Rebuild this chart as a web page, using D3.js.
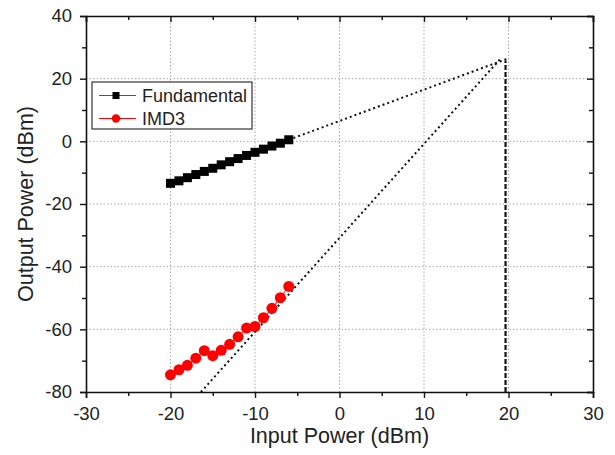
<!DOCTYPE html>
<html lang="en">
<head>
  <meta charset="UTF-8">
  <script src="https://d3js.org/d3.v7.min.js"></script>
  <style>
    body { margin: 0; background: #fff; }
    text { font-family: "Liberation Sans", Arial, sans-serif; fill: #222; }
  </style>
</head>
<body>
  <svg id="chart" width="615" height="455"></svg>
  <script>
    // data
    var inputPower = [-20, -19, -18, -17, -16, -15, -14, -13, -12, -11, -10, -9, -8, -7, -6];
    var fundamental = [-13.4, -12.6, -11.6, -10.6, -9.6, -8.6, -7.5, -6.5, -5.5, -4.5, -3.5, -2.5, -1.5, -0.6, 0.5];
    var imd3 = [-74.5, -72.9, -71.5, -69.2, -66.8, -68.4, -66.7, -64.8, -62.4, -59.6, -59.1, -56.3, -53.3, -49.9, -46.3];

    // extrapolated lines
    var fundFit = [[-6, 0.5], [20, 26.5]];
    var imdFit = [[-16.4, -80], [19.1, 26.5]];
    var ip3Line = [[19.65, -80], [19.65, 25.8]];

    var xTicks = [-30, -20, -10, 0, 10, 20, 30];
    var yTicks = [-80, -60, -40, -20, 0, 20, 40];

    var svg = d3.select("#chart");
    var margin = { left: 86, right: 22, top: 16, bottom: 63 };
    var width = 615, height = 455;

    var x = d3.scaleLinear().domain([-30, 30]).range([margin.left, width - margin.right]);
    var y = d3.scaleLinear().domain([-80, 40]).range([height - margin.bottom, margin.top]);

    var fmt = d => String(d);

    // grid
    var grid = svg.append("g");
    grid.selectAll("line.gx")
      .data(xTicks.slice(1, -1))
      .enter().append("line")
      .attr("x1", d => x(d)).attr("x2", d => x(d))
      .attr("y1", y(-80)).attr("y2", y(40))
      .attr("stroke", "#aaa").attr("stroke-width", 1).attr("stroke-dasharray", "1.5,2");
    grid.selectAll("line.gy")
      .data(yTicks.slice(1, -1))
      .enter().append("line")
      .attr("y1", d => y(d)).attr("y2", d => y(d))
      .attr("x1", x(-30)).attr("x2", x(30))
      .attr("stroke", "#aaa").attr("stroke-width", 1).attr("stroke-dasharray", "1.5,2");

    // axes: bottom/left outward, top/right inward
    var xMinor = d3.range(-25, 30, 10);
    var yMinor = d3.range(-70, 40, 20);

    svg.append("g")
      .attr("transform", "translate(0," + y(-80) + ")")
      .call(d3.axisBottom(x).tickValues(xTicks).tickSize(6).tickPadding(9).tickFormat(fmt))
      .call(g => g.selectAll("text").style("font-size", "18.5px"));
    svg.append("g")
      .attr("transform", "translate(0," + y(-80) + ")")
      .call(d3.axisBottom(x).tickValues(xMinor).tickSize(4).tickFormat(""))
      .call(g => g.select(".domain").remove());

    svg.append("g")
      .attr("transform", "translate(" + x(-30) + ",0)")
      .call(d3.axisLeft(y).tickValues(yTicks).tickSize(6).tickPadding(8).tickFormat(fmt))
      .call(g => g.selectAll("text").style("font-size", "18.5px"));
    svg.append("g")
      .attr("transform", "translate(" + x(-30) + ",0)")
      .call(d3.axisLeft(y).tickValues(yMinor).tickSize(4).tickFormat(""))
      .call(g => g.select(".domain").remove());

    svg.append("g")
      .attr("transform", "translate(0," + y(40) + ")")
      .call(d3.axisBottom(x).tickValues(xTicks).tickSize(6).tickFormat(""));
    svg.append("g")
      .attr("transform", "translate(0," + y(40) + ")")
      .call(d3.axisBottom(x).tickValues(xMinor).tickSize(4).tickFormat(""))
      .call(g => g.select(".domain").remove());

    svg.append("g")
      .attr("transform", "translate(" + x(30) + ",0)")
      .call(d3.axisLeft(y).tickValues(yTicks).tickSize(6).tickFormat(""));
    svg.append("g")
      .attr("transform", "translate(" + x(30) + ",0)")
      .call(d3.axisLeft(y).tickValues(yMinor).tickSize(4).tickFormat(""))
      .call(g => g.select(".domain").remove());

    svg.selectAll(".domain").attr("stroke", "#111").attr("stroke-width", 1.6);
    svg.selectAll(".tick line").attr("stroke", "#111").attr("stroke-width", 1.4);

    // axis titles
    svg.append("text")
      .attr("x", x(0)).attr("y", 443)
      .attr("text-anchor", "middle")
      .style("font-size", "21.5px")
      .text("Input Power (dBm)");
    svg.append("text")
      .attr("transform", "translate(33," + y(-20) + ") rotate(-90)")
      .attr("text-anchor", "middle")
      .style("font-size", "21.5px")
      .text("Output Power (dBm)");

    // extrapolation lines
    var line = d3.line().x(d => x(d[0])).y(d => y(d[1]));
    svg.append("path").attr("d", line(fundFit))
      .attr("fill", "none").attr("stroke", "#111").attr("stroke-width", 2).attr("stroke-dasharray", "2,3");
    svg.append("path").attr("d", line(imdFit))
      .attr("fill", "none").attr("stroke", "#111").attr("stroke-width", 2).attr("stroke-dasharray", "2,3");
    svg.append("path").attr("d", line(ip3Line))
      .attr("fill", "none").attr("stroke", "#111").attr("stroke-width", 2.2).attr("stroke-dasharray", "5,2");

    // data series
    var fundPts = inputPower.map((v, i) => [v, fundamental[i]]);
    var imdPts = inputPower.map((v, i) => [v, imd3[i]]);

    svg.append("path").attr("d", line(fundPts))
      .attr("fill", "none").attr("stroke", "#333").attr("stroke-width", 1);
    svg.append("g").selectAll("rect")
      .data(fundPts)
      .enter().append("rect")
      .attr("x", d => x(d[0]) - 4.5).attr("y", d => y(d[1]) - 4.5)
      .attr("width", 9).attr("height", 9)
      .attr("fill", "#000");

    svg.append("path").attr("d", line(imdPts))
      .attr("fill", "none").attr("stroke", "red").attr("stroke-width", 1);
    svg.append("g").selectAll("circle")
      .data(imdPts)
      .enter().append("circle")
      .attr("cx", d => x(d[0])).attr("cy", d => y(d[1]))
      .attr("r", 5.5)
      .attr("fill", "#f00");

    // legend
    var legend = svg.append("g");
    legend.append("rect")
      .attr("x", 92).attr("y", 82).attr("width", 160).attr("height", 47)
      .attr("fill", "#fff").attr("stroke", "#333").attr("stroke-width", 1.2);
    var series = [
      { name: "Fundamental", color: "#000", line: "#555", shape: "square" },
      { name: "IMD3", color: "#f00", line: "red", shape: "circle" }
    ];
    series.forEach(function (s, i) {
      var yy = 95.5 + i * 23;
      legend.append("line")
        .attr("x1", 99).attr("x2", 136).attr("y1", yy).attr("y2", yy)
        .attr("stroke", s.line).attr("stroke-width", 1.2);
      if (s.shape === "square") {
        legend.append("rect").attr("x", 112.5).attr("y", yy - 3.5).attr("width", 7).attr("height", 7).attr("fill", s.color);
      } else {
        legend.append("circle").attr("cx", 116).attr("cy", yy).attr("r", 4.2).attr("fill", s.color);
      }
      legend.append("text")
        .attr("x", 142).attr("y", yy + 6.3)
        .style("font-size", "18px")
        .text(s.name);
    });
  </script>
</body>
</html>
